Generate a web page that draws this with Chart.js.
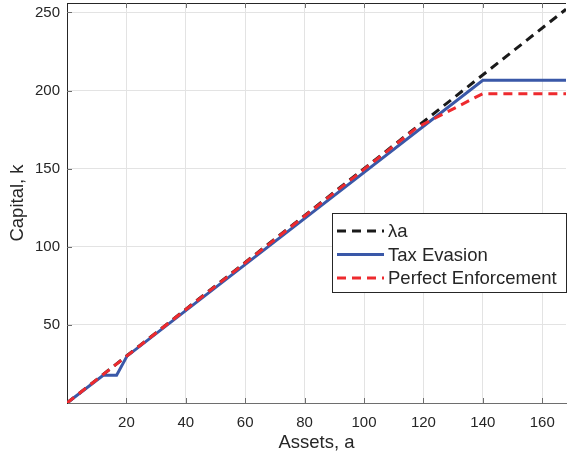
<!DOCTYPE html>
<html>
<head>
<meta charset="utf-8">
<script src="https://cdn.jsdelivr.net/npm/chart.js@4.4.1/dist/chart.umd.min.js"></script>
<style>
  html, body { margin: 0; padding: 0; background: #fff; }
  #wrap { width: 567px; height: 461px; position: relative; }
</style>
</head>
<body>
<div id="wrap"><canvas id="c"></canvas></div>
<script>
// series data
const lambdaAssets = [0, 168];
const lambdaCapital = [0, 252];
const evasionAssets = [0, 12.2, 16.7, 20.2, 140, 168];
const evasionCapital = [0, 17.8, 17.8, 30, 206.5, 206.5];
const enforceAssets = [0, 118, 140, 168];
const enforceCapital = [0, 176.5, 198, 198];

const xTicks = [20, 40, 60, 80, 100, 120, 140, 160];
const yTicks = [50, 100, 150, 200, 250];

const legendItems = [
  { label: 'λa', color: '#1a1a1a', dash: [9, 6] },
  { label: 'Tax Evasion', color: '#3a58a8', dash: [] },
  { label: 'Perfect Enforcement', color: '#ee2a2e', dash: [9, 6] }
];

const pts = (xs, ys) => xs.map((x, i) => ({ x: x, y: ys[i] }));
const FONT = '"Liberation Sans", Arial, sans-serif';

// frame: top border, inward ticks, legend box
const framePlugin = {
  id: 'frame',
  afterDraw(chart) {
    const { ctx, chartArea: a, scales } = chart;
    ctx.save();
    ctx.strokeStyle = '#262626';
    ctx.lineWidth = 1;
    ctx.beginPath();
    ctx.moveTo(a.left, a.top + 0.5);
    ctx.lineTo(a.right, a.top + 0.5);
    ctx.stroke();

    ctx.strokeStyle = '#6e6e6e';
    xTicks.forEach(v => {
      const px = Math.round(scales.x.getPixelForValue(v)) + 0.5;
      ctx.beginPath();
      ctx.moveTo(px, a.top); ctx.lineTo(px, a.top + 5);
      ctx.moveTo(px, a.bottom); ctx.lineTo(px, a.bottom - 5);
      ctx.stroke();
    });
    yTicks.forEach(v => {
      const py = Math.round(scales.y.getPixelForValue(v)) + 0.5;
      ctx.beginPath();
      ctx.moveTo(a.left, py); ctx.lineTo(a.left + 5, py);
      ctx.stroke();
    });

    // legend
    const bx = 332, by = 213, bw = 234, bh = 79;
    ctx.fillStyle = '#fff';
    ctx.fillRect(bx, by, bw, bh);
    ctx.strokeStyle = '#262626';
    ctx.strokeRect(bx + 0.5, by + 0.5, bw, bh);
    ctx.font = '18.5px ' + FONT;
    ctx.textBaseline = 'middle';
    legendItems.forEach((it, i) => {
      const y = 231 + i * 23.5;
      ctx.strokeStyle = it.color;
      ctx.lineWidth = 3;
      ctx.setLineDash(it.dash);
      ctx.beginPath();
      ctx.moveTo(337, y); ctx.lineTo(384, y);
      ctx.stroke();
      ctx.setLineDash([]);
      ctx.fillStyle = '#262626';
      ctx.fillText(it.label, 388, y + 1);
    });
    ctx.restore();
  }
};

new Chart(document.getElementById('c'), {
  type: 'line',
  data: {
    datasets: [
      {
        label: 'λa',
        data: pts(lambdaAssets, lambdaCapital),
        borderColor: '#1a1a1a',
        borderWidth: 3,
        borderDash: [9, 6],
        order: 3
      },
      {
        label: 'Tax Evasion',
        data: pts(evasionAssets, evasionCapital),
        borderColor: '#3a58a8',
        borderWidth: 3,
        order: 2
      },
      {
        label: 'Perfect Enforcement',
        data: pts(enforceAssets, enforceCapital),
        borderColor: '#ee2a2e',
        borderWidth: 3,
        borderDash: [9, 6],
        order: 1
      }
    ]
  },
  plugins: [framePlugin],
  options: {
    responsive: true,
    maintainAspectRatio: false,
    animation: false,
    elements: { point: { radius: 0 }, line: { tension: 0 } },
    layout: { padding: { top: 3, right: 1, left: 0, bottom: 0 } },
    plugins: { legend: { display: false }, tooltip: { enabled: false } },
    scales: {
      x: {
        type: 'linear',
        min: 0, max: 168,
        afterBuildTicks: s => { s.ticks = xTicks.map(v => ({ value: v })); },
        afterFit: s => { s.height = 58; s.paddingLeft = 0; s.paddingRight = 0; },
        grid: { color: '#e3e3e3', drawTicks: false },
        border: { color: '#6e6e6e', width: 1 },
        ticks: { color: '#262626', font: { size: 15, family: FONT }, padding: 11, maxRotation: 0 },
        title: { display: true, text: 'Assets, a', color: '#262626', font: { size: 18.5, family: FONT }, padding: { top: 0, bottom: 7 } }
      },
      y: {
        type: 'linear',
        min: 0, max: 256,
        afterBuildTicks: s => { s.ticks = yTicks.map(v => ({ value: v })); },
        afterFit: s => { s.width = 67; s.paddingTop = 0; s.paddingBottom = 0; },
        grid: { color: '#e3e3e3', drawTicks: false },
        border: { color: '#262626', width: 1 },
        ticks: { color: '#262626', font: { size: 15, family: FONT }, padding: 7 },
        title: { display: true, text: 'Capital, k', color: '#262626', font: { size: 18.5, family: FONT }, padding: { top: 7, bottom: 0 } }
      }
    }
  }
});
</script>
</body>
</html>
